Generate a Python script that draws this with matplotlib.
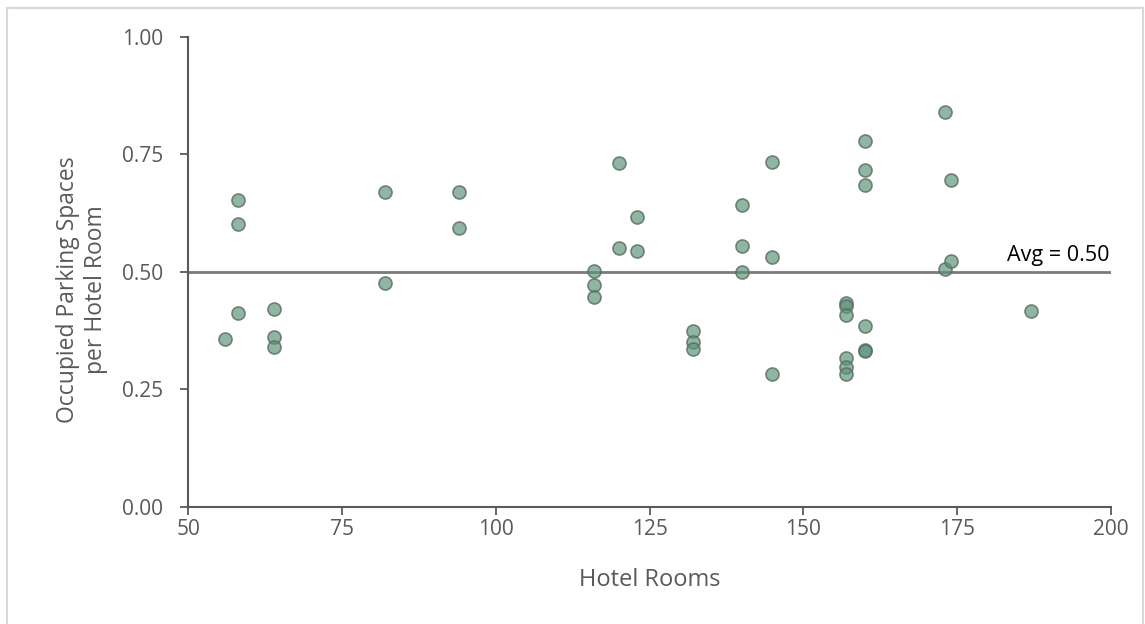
import numpy as np
import matplotlib.pyplot as plt
from matplotlib.patches import Rectangle

# hotel rooms (x) and occupied parking spaces per room (y)
rooms = [56, 58, 58, 58, 64, 64, 64, 82, 82, 94, 94,
         116, 116, 116, 120, 120, 123, 123, 132, 132, 132,
         140, 140, 140, 145, 145, 145,
         157, 157, 157, 157, 157, 157,
         160, 160, 160, 160, 160, 160,
         173, 173, 174, 174, 187]
ratio = [0.356, 0.653, 0.601, 0.413, 0.421, 0.362, 0.341, 0.670, 0.476, 0.670, 0.594,
         0.502, 0.473, 0.447, 0.732, 0.550, 0.617, 0.544, 0.375, 0.351, 0.335,
         0.642, 0.555, 0.500, 0.734, 0.532, 0.283,
         0.434, 0.428, 0.408, 0.316, 0.298, 0.283,
         0.778, 0.717, 0.685, 0.385, 0.334, 0.331,
         0.841, 0.507, 0.695, 0.524, 0.417]
avg_value = 0.50
x_ticks = [50, 75, 100, 125, 150, 175, 200]
y_ticks = [0.00, 0.25, 0.50, 0.75, 1.00]

plt.rcParams['font.family'] = ['Open Sans', 'DejaVu Sans']
grey = "#595959"

fig = plt.figure(figsize=(11.45, 6.24), dpi=100)
ax = fig.add_axes([0.1645, 0.1878, 0.8055, 0.7532])

# light frame around the chart area
fig.patches.append(Rectangle((0.006, -0.01), 0.992, 0.997, transform=fig.transFigure,
                             fill=False, edgecolor="#d9d9d9", linewidth=1.5))

ax.axhline(avg_value, color="#7a7a7a", linewidth=2, zorder=1)
ax.text(199.8, avg_value + 0.012, "Avg = %.2f" % avg_value, ha="right", va="bottom",
        fontsize=15.5, color="black")

ax.scatter(rooms, ratio, s=88, facecolor=(0.36, 0.58, 0.47, 0.68),
           edgecolor=(0.35, 0.42, 0.38, 0.8), linewidth=1.2, zorder=3)

ax.set_xlim(50, 200)
ax.set_ylim(0, 1)
ax.set_xticks(x_ticks)
ax.set_yticks(y_ticks)
ax.set_yticklabels(["%.2f" % v for v in y_ticks])

for s in ["top", "right"]:
    ax.spines[s].set_visible(False)
for s in ["left", "bottom"]:
    ax.spines[s].set_color(grey)
    ax.spines[s].set_linewidth(1.5)
ax.tick_params(colors=grey, labelsize=15, length=6, width=1.3, direction="out")
ax.tick_params(axis="y", pad=12)
ax.tick_params(axis="x", pad=3)

ax.set_xlabel("Hotel Rooms", fontsize=17, color=grey, labelpad=20)
ax.set_ylabel("Occupied Parking Spaces\nper Hotel Room", fontsize=16.5, color=grey,
              linespacing=1.2, va="center", ha="center")
ax.yaxis.set_label_coords(-0.115, 0.463)

fig.savefig("out.png", dpi=100)
